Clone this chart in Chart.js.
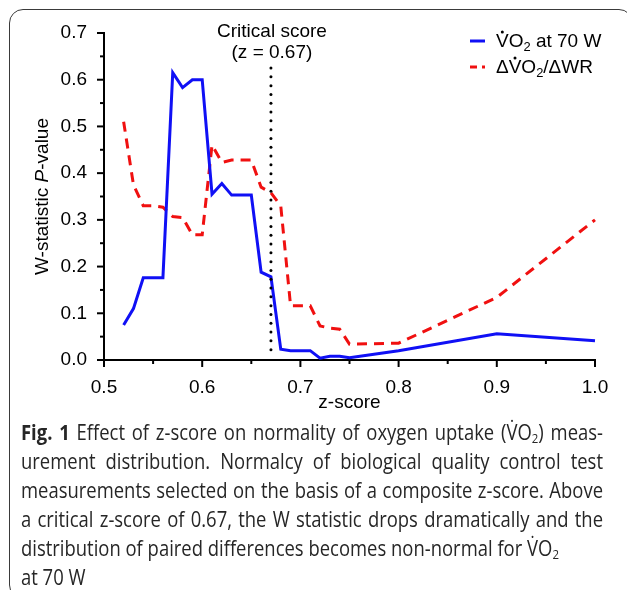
<!DOCTYPE html>
<html>
<head>
<meta charset="utf-8">
<script src="https://cdn.jsdelivr.net/npm/chart.js@4.4.1/dist/chart.umd.min.js"></script>
<style>
  html, body { margin:0; padding:0; background:#fff; width:627px; height:590px; overflow:hidden; }
  #wrap { position:relative; width:627px; height:590px; }
  #c { position:absolute; left:0; top:0; }
  #frame { position:absolute; left:9px; top:9px; width:624px; height:590px; border:1.5px solid #3a3a3a; border-radius:14px; box-sizing:border-box; pointer-events:none; }
  #cap { position:absolute; left:21px; top:418px; font-family:"Open Sans", sans-serif; font-size:21px; line-height:29px; color:#262626; transform-origin:0 0; white-space:nowrap; }
  #cap .j { text-align:justify; text-align-last:justify; white-space:normal; }
  #cap b { font-weight:700; }
  #cap sub { font-size:0.62em; vertical-align:-0.2em; line-height:0; }
</style>
</head>
<body>
<div id="wrap">
  <canvas id="c" width="627" height="412"></canvas>
  <div id="frame"></div>
  <div id="cap">
    <div class="j"><b>Fig. 1</b> Effect of z-score on normality of oxygen uptake (V̇O<sub>2</sub>) meas-</div>
    <div class="j">urement distribution. Normalcy of biological quality control test</div>
    <div class="j">measurements selected on the basis of a composite z-score. Above</div>
    <div class="j"><span id="l4" style="white-space:nowrap">a critical z-score of 0.67, the W statistic drops dramatically and the</span></div>
    <div>distribution of paired differences becomes non-normal for V̇O<sub>2</sub></div>
    <div>at 70 W</div>
  </div>
</div>
<script>
const zScores = [0.52,0.53,0.54,0.55,0.56,0.57,0.58,0.59,0.60,0.61,0.62,0.63,0.64,0.65,0.66,0.67,0.68,0.69,0.70,0.71,0.72,0.73,0.74,0.75,0.80,0.90,1.00];
const vo2At70 = [0.075,0.11,0.176,0.176,0.176,0.615,0.583,0.600,0.600,0.355,0.378,0.353,0.353,0.353,0.188,0.178,0.023,0.020,0.020,0.020,0.004,0.008,0.008,0.005,0.020,0.056,0.041];
const dVo2dWR = [0.51,0.375,0.33,0.33,0.327,0.307,0.305,0.268,0.268,0.46,0.423,0.428,0.428,0.428,0.37,0.358,0.33,0.116,0.116,0.116,0.073,0.068,0.066,0.034,0.036,0.134,0.30];
const criticalZ = 0.67;
const xTicks = [0.5,0.6,0.7,0.8,0.9,1.0];
const yTicks = [0,0.1,0.2,0.3,0.4,0.5,0.6,0.7];

const FONT = '"Liberation Sans", Arial, sans-serif';
const BLUE = '#1010f5', RED = '#f01010';

// caption: squeeze the wide font to the condensed look of the original
(function(){
  const cap = document.getElementById('cap');
  const w = document.getElementById('l4').getBoundingClientRect().width;
  const s = 566 / w;
  cap.style.transform = 'scaleX(' + s + ')';
  cap.style.width = (582 / s) + 'px';
})();

// draws text runs: {t, dot, sub, italic}
function drawRich(ctx, parts, x, y, size) {
  let cx = x;
  parts.forEach(p => {
    const fs = p.sub ? size * 0.68 : size;
    ctx.font = (p.italic ? 'italic ' : '') + fs + 'px ' + FONT;
    const dy = p.sub ? size * 0.3 : 0;
    ctx.fillText(p.t, cx, y + dy);
    const w = ctx.measureText(p.t).width;
    if (p.dot) {
      ctx.beginPath();
      ctx.arc(cx + w / 2, y - size * 0.52, 1.5, 0, Math.PI * 2);
      ctx.fill();
    }
    cx += w;
  });
}
function richWidth(ctx, parts, size) {
  let w = 0;
  parts.forEach(p => {
    ctx.font = (p.italic ? 'italic ' : '') + (p.sub ? size * 0.68 : size) + 'px ' + FONT;
    w += ctx.measureText(p.t).width;
  });
  return w;
}

const extras = {
  id:'extras',
  afterDraw(chart) {
    const ctx = chart.ctx, xs = chart.scales.x, ys = chart.scales.y;
    const x0 = xs.getPixelForValue(0.5), yBase = ys.getPixelForValue(0);
    ctx.save();
    ctx.fillStyle = '#000';
    ctx.strokeStyle = '#000';
    ctx.lineWidth = 2;

    // major + minor ticks
    for (let i = 0; i <= 10; i++) {
      const v = 0.5 + i * 0.05;
      const px = xs.getPixelForValue(v);
      ctx.beginPath(); ctx.moveTo(px, yBase); ctx.lineTo(px, yBase + (i % 2 ? 4 : 7)); ctx.stroke();
    }
    for (let i = 0; i <= 14; i++) {
      const py = ys.getPixelForValue(i * 0.05);
      ctx.beginPath(); ctx.moveTo(x0, py); ctx.lineTo(x0 - (i % 2 ? 4 : 7), py); ctx.stroke();
    }

    // critical score dotted line
    const cx = xs.getPixelForValue(criticalZ);
    const top = ys.getPixelForValue(0.625), bot = ys.getPixelForValue(0.01);
    for (let py = top; py <= bot + 0.5; py += 8.8) {
      ctx.beginPath(); ctx.arc(cx, py, 1.5, 0, Math.PI * 2); ctx.fill();
    }
    ctx.font = '19px ' + FONT;
    ctx.textAlign = 'center';
    ctx.textBaseline = 'middle';
    ctx.fillText('Critical score', cx + 1, 32);
    ctx.fillText('(z = 0.67)', cx + 1, 53);

    // legend
    ctx.textAlign = 'left';
    ctx.strokeStyle = BLUE; ctx.lineWidth = 3;
    ctx.beginPath(); ctx.moveTo(470, 41); ctx.lineTo(485, 41); ctx.stroke();
    ctx.strokeStyle = RED;
    ctx.beginPath(); ctx.moveTo(470, 67); ctx.lineTo(477, 67); ctx.stroke();
    ctx.beginPath(); ctx.moveTo(482, 67); ctx.lineTo(485, 67); ctx.stroke();
    ctx.fillStyle = '#000';
    drawRich(ctx, [{t:'V', dot:true},{t:'O'},{t:'2', sub:true},{t:' at 70 W'}], 496, 42, 19);
    drawRich(ctx, [{t:'\u0394'},{t:'V', dot:true},{t:'O'},{t:'2', sub:true},{t:'/\u0394WR'}], 496, 68, 19);

    // axis titles
    ctx.textAlign = 'center';
    ctx.font = '19px ' + FONT;
    ctx.fillText('z-score', (xs.left + xs.right) / 2, 403);
    const yParts = [{t:'W-statistic '},{t:'P', italic:true},{t:'-value'}];
    ctx.translate(43, (ys.top + ys.bottom) / 2);
    ctx.rotate(-Math.PI / 2);
    ctx.textAlign = 'left';
    drawRich(ctx, yParts, -richWidth(ctx, yParts, 19) / 2, 0, 19);
    ctx.restore();
  }
};

new Chart(document.getElementById('c'), {
  type:'line',
  data:{
    datasets:[
      {label:'VO2 at 70 W', data:zScores.map((z,i)=>({x:z, y:vo2At70[i]})), borderColor:BLUE, borderWidth:3, pointRadius:0, tension:0, clip:false, borderJoinStyle:'miter'},
      {label:'dVO2/dWR', data:zScores.map((z,i)=>({x:z, y:dVo2dWR[i]})), borderColor:RED, borderWidth:3, borderDash:[10,7], pointRadius:0, tension:0, clip:false}
    ]
  },
  options:{
    responsive:false, animation:false, devicePixelRatio:1,
    layout:{padding:{left:0, right:32, top:33, bottom:0}},
    plugins:{legend:{display:false}, tooltip:{enabled:false}},
    scales:{
      x:{type:'linear', min:0.5, max:1.0,
        afterBuildTicks:s=>{ s.ticks = xTicks.map(v=>({value:v})); },
        afterFit:s=>{ s.height = 52; },
        grid:{display:false}, border:{display:true, color:'#000', width:2},
        ticks:{color:'#000', font:{size:19, family:FONT}, padding:8, maxRotation:0, callback:v=>v.toFixed(1)}},
      y:{min:0, max:0.7,
        afterBuildTicks:s=>{ s.ticks = yTicks.map(v=>({value:v})); },
        afterFit:s=>{ s.width = 104; },
        grid:{display:false}, border:{display:true, color:'#000', width:2},
        ticks:{color:'#000', font:{size:19, family:FONT}, padding:9, callback:v=>v.toFixed(1)}}
    }
  },
  plugins:[extras]
});
</script>
</body>
</html>
